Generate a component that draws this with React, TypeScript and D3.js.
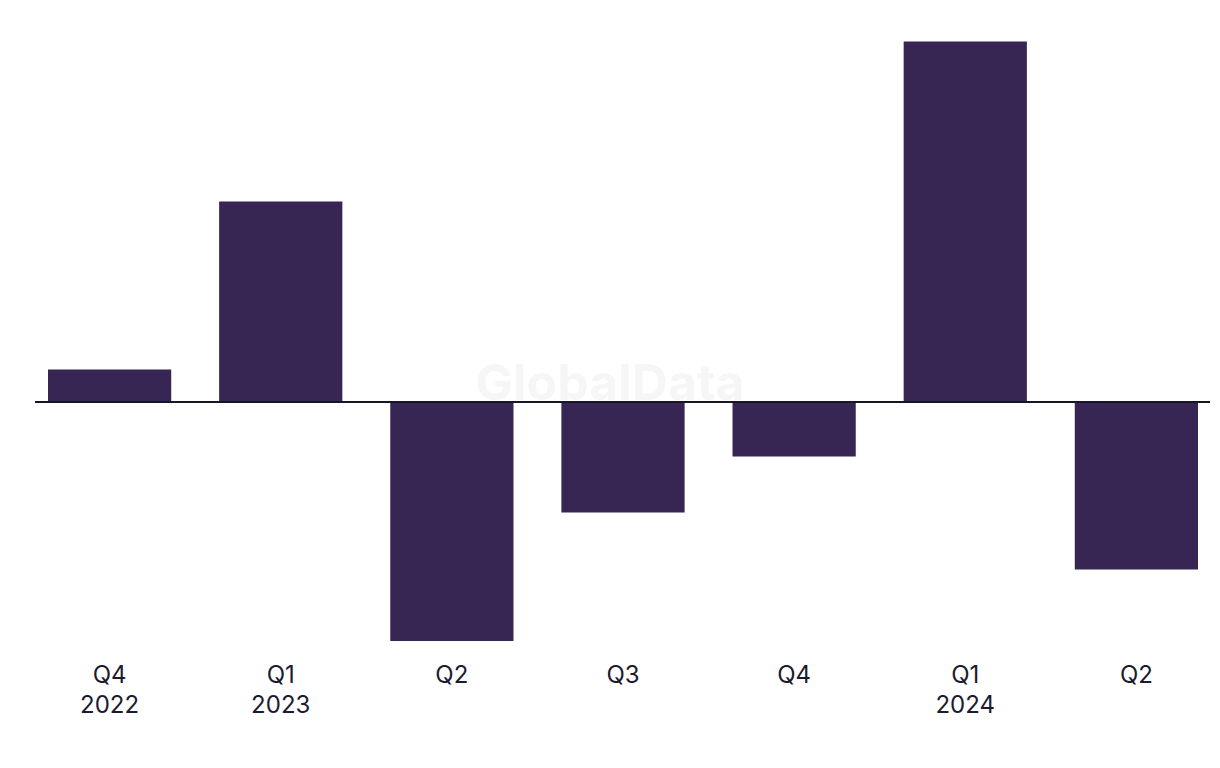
import React from "react";
import * as d3 from "d3";

const quarters = ["Q4", "Q1", "Q2", "Q3", "Q4", "Q1", "Q2"];
const years = ["2022", "2023", "", "", "", "2024", ""];
const values = [0.315, 1.995, -2.4, -1.115, -0.555, 3.595, -1.685];

const W = 1220;
const H = 768;

export default function App() {
  const x = d3
    .scaleBand<number>()
    .domain(values.map((_, i) => i))
    .range([48, 1198])
    .paddingInner(0.28)
    .paddingOuter(0);
  const y = d3.scaleLinear().domain([-2.4, 3.6]).range([641, 41]);
  const y0 = y(0);

  return (
    <svg
      width={W}
      height={H}
      style={{ position: "absolute", left: 0, top: 0, background: "#fff" }}
    >
      <text
        x={610}
        y={400}
        textAnchor="middle"
        fontFamily="Inter, 'Noto Sans', sans-serif"
        fontWeight={700}
        fontSize={50}
        fill="#f6f6f6"
      >
        GlobalData
      </text>
      {values.map((v, i) => (
        <rect
          key={i}
          x={x(i)}
          width={x.bandwidth()}
          y={Math.min(y(v), y0)}
          height={Math.abs(y(v) - y0)}
          fill="#372554"
        />
      ))}
      <line x1={35} x2={1210} y1={y0 + 1} y2={y0 + 1} stroke="#17152a" strokeWidth={2} />
      {quarters.map((q, i) => {
        const cx = (x(i) as number) + x.bandwidth() / 2;
        return (
          <g key={i} fontFamily="Inter, 'Noto Sans', sans-serif" fontSize={24} fill="#1c1a2e" textAnchor="middle">
            <text x={cx} y={683}>{q}</text>
            {years[i] && <text x={cx} y={713}>{years[i]}</text>}
          </g>
        );
      })}
    </svg>
  );
}
